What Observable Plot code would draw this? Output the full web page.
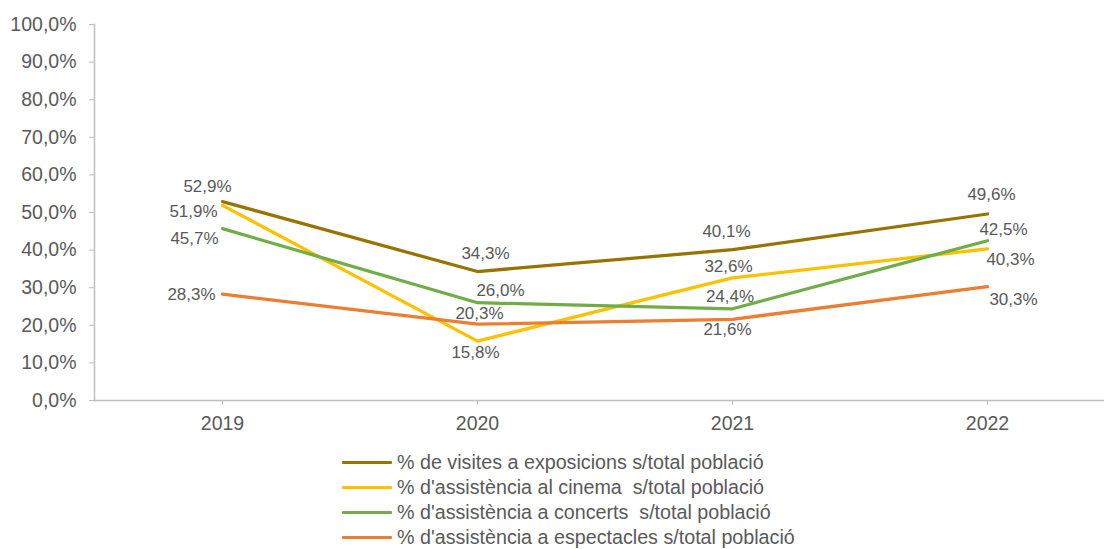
<!DOCTYPE html>
<html>
<head>
<meta charset="utf-8">
<script src="https://cdn.jsdelivr.net/npm/d3@7"></script>
<script src="https://cdn.jsdelivr.net/npm/@observablehq/plot@0.6"></script>
<style>
  html, body { margin: 0; padding: 0; background: #fff; }
  body { font-family: "Liberation Sans", Arial, sans-serif; width: 1104px; height: 549px; overflow: hidden; }
  #legend { position: relative; margin-top: 10px; padding-left: 342px; }
  .row { display: flex; align-items: center; height: 25px; font-size: 19.7px; color: #595959; white-space: pre; }
  .sw { width: 50px; height: 3px; margin-right: 5px; border-radius: 1px; }
</style>
</head>
<body>
<div id="chart"></div>
<div id="legend"></div>
<script>
const years = ["2019", "2020", "2021", "2022"];
const seriesNames = [
  "% de visites a exposicions s/total població",
  "% d'assistència al cinema  s/total població",
  "% d'assistència a concerts  s/total població",
  "% d'assistència a espectacles s/total població"
];
const exposicions = [52.9, 34.3, 40.1, 49.6];
const cinema = [51.9, 15.8, 32.6, 40.3];
const concerts = [45.7, 26.0, 24.4, 42.5];
const espectacles = [28.3, 20.3, 21.6, 30.3];
const yTicks = [0, 10, 20, 30, 40, 50, 60, 70, 80, 90, 100];
const colors = ["#997300", "#FFC000", "#70AD47", "#ED7D31"];

// label placement offsets (pixels) per series, per year
const labelOffsets = [
  [[-15, -15], [8, -18], [-6, -18], [4, -19]],
  [[-29, 6], [-2, 11], [-4, -11], [23, 10.5]],
  [[-28, 9.5], [23, -12.5], [-2.5, -12], [16, -11.5]],
  [[-31, 0], [2, -10.5], [-5, 10.5], [26, 12.5]]
];

const allSeries = [exposicions, cinema, concerts, espectacles];
const data = [];
allSeries.forEach((vals, si) => {
  vals.forEach((v, i) => data.push({series: seriesNames[si], si, i, year: years[i], value: v}));
});

const fmt = v => v.toFixed(1).replace(".", ",") + "%";
const textColor = "#595959";
const axisColor = "#BFBFBF";

const labelMarks = data.map(d => Plot.text([d], {
  x: "year", y: "value", text: r => fmt(r.value),
  dx: labelOffsets[d.si][d.i][0], dy: labelOffsets[d.si][d.i][1],
  fill: textColor, fontSize: 17, textAnchor: "middle"
}));

const chart = Plot.plot({
  width: 1104,
  height: 440,
  marginLeft: 94,
  marginRight: 0,
  marginTop: 24,
  marginBottom: 40,
  style: {fontFamily: '"Liberation Sans", Arial, sans-serif', background: "#fff"},
  x: {type: "point", domain: years, range: [94, 1114], padding: 0.5},
  y: {domain: [0, 100]},
  color: {domain: seriesNames, range: colors},
  marks: [
    Plot.frame({anchor: "left", stroke: axisColor, strokeWidth: 1.5}),
    Plot.ruleY([0], {stroke: axisColor, strokeWidth: 1.5}),
    Plot.axisY({ticks: yTicks, tickFormat: fmt, tickSize: 5, tickPadding: 13, fontSize: 19.5, stroke: axisColor, fill: textColor, label: null}),
    Plot.axisX({tickSize: 5, tickPadding: 11, fontSize: 19.5, stroke: axisColor, fill: textColor, label: null}),
    Plot.line(data, {x: "year", y: "value", stroke: "series", z: "series", strokeWidth: 3.25, strokeLinecap: "round", strokeLinejoin: "round"}),
    ...labelMarks
  ]
});
document.getElementById("chart").appendChild(chart);

const legend = document.getElementById("legend");
seriesNames.forEach((name, i) => {
  const row = document.createElement("div");
  row.className = "row";
  const sw = document.createElement("div");
  sw.className = "sw";
  sw.style.background = colors[i];
  const t = document.createElement("span");
  t.textContent = name;
  row.appendChild(sw);
  row.appendChild(t);
  legend.appendChild(row);
});
</script>
</body>
</html>
